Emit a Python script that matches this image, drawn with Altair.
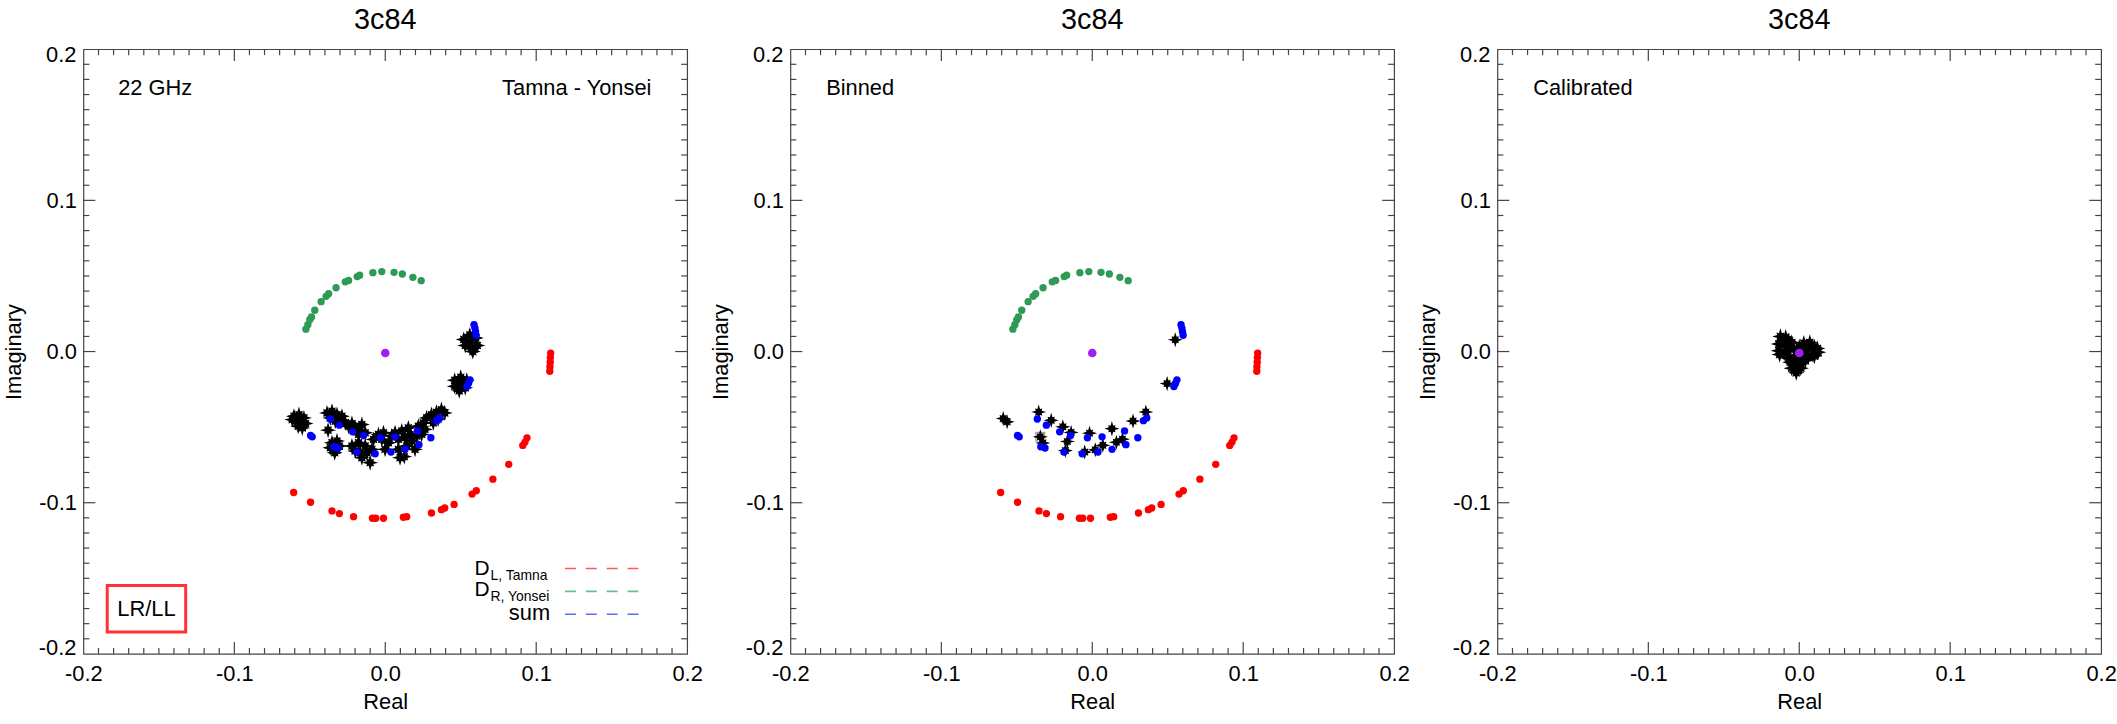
import altair as alt
import pandas as pd

# ---------------- data (Real, Imaginary) ----------------
green_re = [-0.0526, -0.0513, -0.0500, -0.0489, -0.0467, -0.0425, -0.0392, -0.0375, -0.0326,
            -0.0265, -0.0243, -0.0186, -0.0170, -0.0082, -0.0023, 0.0058, 0.0113, 0.0183, 0.0238]
green_im = [0.0148, 0.0178, 0.0211, 0.0229, 0.0273, 0.0330, 0.0365, 0.0382, 0.0422,
            0.0461, 0.0470, 0.0496, 0.0505, 0.0522, 0.0529, 0.0524, 0.0513, 0.0491, 0.0469]

red_re = [-0.0607, -0.0495, -0.0353, -0.0304, -0.0210, -0.0085, -0.0063, -0.0012, 0.0120, 0.0142,
          0.0306, 0.0372, 0.0394, 0.0456, 0.0575, 0.0603, 0.0713, 0.0818, 0.0911, 0.0926, 0.0939,
          0.1096, 0.1094, 0.1093, 0.1091, 0.1090]
red_im = [-0.0932, -0.0997, -0.1054, -0.1072, -0.1092, -0.1103, -0.1103, -0.1103, -0.1096, -0.1092,
          -0.1068, -0.1046, -0.1035, -0.1011, -0.0943, -0.0921, -0.0844, -0.0746, -0.0621, -0.0599, -0.0571,
          -0.0010, -0.0040, -0.0070, -0.0100, -0.0130]

blue_re = [0.0588, 0.0594, 0.0598, 0.0602, 0.0561, 0.0552, 0.0541, -0.0495, -0.0484,
           -0.0364, -0.0304, -0.0216, -0.0144, -0.0032, 0.0065, -0.0341, -0.0313, -0.0188,
           -0.0067, 0.0038, 0.0131, 0.0223, 0.0214, 0.0302, 0.0339, 0.0361]
blue_im = [0.0178, 0.0155, 0.0132, 0.0108, -0.0187, -0.0209, -0.0231, -0.0555, -0.0564,
           -0.0446, -0.0487, -0.0531, -0.0555, -0.0570, -0.0564, -0.0630, -0.0638, -0.0665,
           -0.0676, -0.0665, -0.0647, -0.0616, -0.0525, -0.0570, -0.0457, -0.0439]

purple_re = [0.0]
purple_im = [-0.001]

# panel 1 (raw) black stars, by cluster
p1_a_re = [-0.0605, -0.0572, -0.0539, -0.0594, -0.0555, -0.0616, -0.0528, -0.0577, -0.0550]
p1_a_im = [-0.0428, -0.0417, -0.0439, -0.0461, -0.0472, -0.0450, -0.0476, -0.0494, -0.0505]
p1_c_re = [0.052, 0.056, 0.060, 0.061, 0.057, 0.053, 0.056, 0.058]
p1_c_im = [0.008, 0.011, 0.009, 0.004, 0.002, 0.004, 0.006, 0.000]
p1_d_re = [0.046, 0.050, 0.054, 0.053, 0.049, 0.046, 0.050]
p1_d_im = [-0.019, -0.017, -0.019, -0.024, -0.026, -0.023, -0.021]
p1_b1_re = [-0.0386, -0.0353, -0.0320, -0.0364, -0.0298, -0.0331, -0.0265, -0.0287, -0.0243,
            -0.0221, -0.0199, -0.0177, -0.0155, -0.0133, -0.0177]
p1_b1_im = [-0.0406, -0.0395, -0.0417, -0.0439, -0.0450, -0.0461, -0.0472, -0.0428, -0.0494,
            -0.0476, -0.0505, -0.0515, -0.0483, -0.0537, -0.0548]
p1_b2_re = [-0.0353, -0.0320, -0.0331, -0.0364, -0.0304, -0.0335]
p1_b2_im = [-0.0603, -0.0592, -0.0647, -0.0636, -0.0625, -0.0669]
p1_b3_re = [-0.0221, -0.0199, -0.0166, -0.0177, -0.0133, -0.0122, -0.0089, -0.0078, -0.0045,
            -0.0012, -0.0023, -0.0001, 0.0021, 0.0043, 0.0065, 0.0087, 0.0087, 0.0109, 0.0131,
            0.0142, 0.0164, 0.0175, 0.0197, 0.0208, 0.0153]
p1_b3_im = [-0.0625, -0.0658, -0.0669, -0.0603, -0.0625, -0.0669, -0.0647, -0.0581, -0.0548,
            -0.0537, -0.0581, -0.0647, -0.0603, -0.0559, -0.0537, -0.0581, -0.0647, -0.0526, -0.0570,
            -0.0625, -0.0548, -0.0592, -0.0647, -0.0559, -0.0505]
p1_b4_re = [0.0219, 0.0252, 0.0274, 0.0306, 0.0339, 0.0372, 0.0394, 0.0350, 0.0318, 0.0263, 0.0241]
p1_b4_im = [-0.0494, -0.0472, -0.0439, -0.0417, -0.0402, -0.0384, -0.0406, -0.0446, -0.0472, -0.0515, -0.0548]
p1_iso_re = [-0.0379, -0.0100, 0.0126, -0.0155, 0.0098]
p1_iso_im = [-0.0520, -0.0735, -0.0695, -0.0702, -0.0702]

# panel 2 (binned) black stars
p2_re = [-0.0590, -0.0564, -0.0355, -0.0272, -0.0195, -0.0140, -0.0344, -0.0327, -0.0165, -0.0178,
         -0.0050, -0.0018, 0.0020, 0.0070, 0.0130, 0.0160, 0.0200, 0.0270, 0.0355, 0.0496, 0.0550]
p2_im = [-0.0443, -0.0465, -0.0400, -0.0455, -0.0498, -0.0535, -0.0564, -0.0605, -0.0595, -0.0655,
         -0.0665, -0.0540, -0.0650, -0.0620, -0.0510, -0.0600, -0.0580, -0.0460, -0.0400, -0.0212, 0.0078]
p2_box_re = [-0.0344]
p2_box_im = [-0.0564]

# panel 3 (calibrated) black stars
p3_re = [-0.0125, -0.0090, -0.0135, -0.0095, -0.0135, -0.0100, -0.0060, -0.0050, 0.0030, 0.0070,
         0.0100, 0.0125, 0.0090, 0.0040, 0.0000, 0.0020, -0.0030, -0.0070, -0.0040, 0.0010,
         -0.0020, -0.0020, 0.0060, -0.0060, -0.0110, -0.0070, 0.0060, 0.0120, -0.0130, 0.0100,
         -0.0010, 0.0040, -0.0050, 0.0010, -0.0080, -0.0020]
p3_im = [0.0100, 0.0095, 0.0050, 0.0050, 0.0005, -0.0010, 0.0020, 0.0060, 0.0055, 0.0060,
         0.0030, -0.0005, -0.0020, 0.0010, 0.0030, -0.0040, -0.0040, -0.0045, -0.0080, -0.0080,
         -0.0110, -0.0140, -0.0035, -0.0070, 0.0070, 0.0070, 0.0030, 0.0020, -0.0020, -0.0030,
         -0.0060, -0.0060, -0.0110, -0.0110, 0.0010, 0.0000]

tick_labels = [-0.2, -0.1, 0.0, 0.1, 0.2]
inner_y_labels = [-0.1, 0.0, 0.1]
major_ticks = [-0.1, 0.0, 0.1]
minor_ticks = [round(i * 0.01, 2) for i in range(-19, 20) if i % 10 != 0]

# ---------------- styling ----------------
W, H = 608, 609
FONT = "Liberation Sans"
FRAME = "#444444"
STAR = ("M0,-1L0.18,-0.4L0.48,-0.48L0.4,-0.18L1,0L0.4,0.18L0.48,0.48"
        "L0.18,0.4L0,1L-0.18,0.4L-0.48,0.48L-0.4,0.18L-1,0L-0.4,-0.18"
        "L-0.48,-0.48L-0.18,-0.4Z")
SCALE = alt.Scale(domain=[-0.2, 0.2], nice=False, zero=False)
LABEL_EXPR = "replace(format(datum.value, '.1f'), '\u2212', '-')"

X = alt.X("re:Q", scale=SCALE, title="Real",
          axis=alt.Axis(values=tick_labels, labelExpr=LABEL_EXPR, ticks=False, tickSize=0,
                        domain=False, grid=False, labelFont=FONT, labelFontSize=22,
                        labelColor="black", labelPadding=10, labelFlush=False, labelOverlap=False,
                        titleFont=FONT, titleFontSize=22, titleFontWeight="normal",
                        titleColor="black", titlePadding=7))
Y = alt.Y("im:Q", scale=SCALE, title="Imaginary",
          axis=alt.Axis(values=inner_y_labels, labelExpr=LABEL_EXPR, ticks=False, tickSize=0,
                        domain=False, grid=False, labelFont=FONT, labelFontSize=22,
                        labelColor="black", labelPadding=7, labelFlush=False, labelOverlap=False,
                        titleFont=FONT, titleFontSize=22, titleFontWeight="normal",
                        titleColor="black", titlePadding=13))


def df(re, im):
    return pd.DataFrame({"re": re, "im": im})


def tick_layers():
    out = []
    for vals, ln in ((major_ticks, 12), (minor_ticks, 6)):
        dx = pd.DataFrame({"re": vals})
        dy = pd.DataFrame({"im": vals})
        rule = dict(color=FRAME, strokeWidth=1.2)
        out.append(alt.Chart(dx).mark_rule(**rule).encode(x=X, y=alt.value(H), y2=alt.value(H - ln)))
        out.append(alt.Chart(dx).mark_rule(**rule).encode(x=X, y=alt.value(0), y2=alt.value(ln)))
        out.append(alt.Chart(dy).mark_rule(**rule).encode(y=Y, x=alt.value(0), x2=alt.value(ln)))
        out.append(alt.Chart(dy).mark_rule(**rule).encode(y=Y, x=alt.value(W), x2=alt.value(W - ln)))
    return out


def dots(re, im, color, size=55):
    return alt.Chart(df(re, im)).mark_point(shape="circle", filled=True, size=size, color=color,
                                            opacity=1, strokeWidth=0).encode(x=X, y=Y)


def stars(re, im, size=260):
    return alt.Chart(df(re, im)).mark_point(shape=STAR, filled=True, size=size, color="black",
                                            opacity=1, strokeWidth=0).encode(x=X, y=Y)


def text(t, x, y, size=22, align="left", baseline="alphabetic"):
    return alt.Chart(pd.DataFrame({"t": [t]})).mark_text(
        font=FONT, fontSize=size, color="black", align=align, baseline=baseline
    ).encode(x=alt.value(x), y=alt.value(y), text="t:N")


def dash(color, y):
    return alt.Chart(pd.DataFrame({"t": [0]})).mark_rule(
        color=color, strokeWidth=1.6, strokeDash=[11, 10]
    ).encode(x=alt.value(485), x2=alt.value(562), y=alt.value(y))


def panel(layers):
    end_labels = [
        text("0.2", -7, 6, align="right", baseline="middle"),
        text("-0.2", -7, H - 6, align="right", baseline="middle"),
    ]
    return alt.layer(*tick_layers(), *end_labels, *layers).properties(
        width=W, height=H,
        title=alt.TitleParams("3c84", font=FONT, fontSize=29, fontWeight="normal",
                              color="black", offset=9))


p1_re = p1_a_re + p1_c_re + p1_d_re + p1_b1_re + p1_b2_re + p1_b3_re + p1_b4_re + p1_iso_re
p1_im = p1_a_im + p1_c_im + p1_d_im + p1_b1_im + p1_b2_im + p1_b3_im + p1_b4_im + p1_iso_im

box = alt.Chart(pd.DataFrame({"t": [0]})).mark_rect(
    fillOpacity=0, stroke="#ff3333", strokeWidth=3
).encode(x=alt.value(24), x2=alt.value(103), y=alt.value(540), y2=alt.value(587))

panel1 = panel([
    dots(green_re, green_im, "#2e9a55"),
    dots(red_re, red_im, "#ff0000"),
    stars(p1_re, p1_im),
    dots(blue_re, blue_im, "#0000ff"),
    dots(purple_re, purple_im, "#a020f0", 75),
    text("22 GHz", 35, 46),
    text("Tamna - Yonsei", 572, 46, align="right"),
    box,
    text("LR/LL", 63.5, 564, align="center", baseline="middle"),
    text("D", 409, 530, size=21, align="right"),
    text("L, Tamna", 410, 535, size=14, align="left"),
    dash("#ff5a5a", 523),
    text("D", 409, 551, size=21, align="right"),
    text("R, Yonsei", 410, 556, size=14, align="left"),
    dash("#6dbf8a", 546),
    text("sum", 470, 575, size=22, align="right"),
    dash("#5a6bff", 569),
])

sq = alt.Chart(df(p2_box_re, p2_box_im)).mark_point(
    shape="square", filled=False, size=80, color="#777777", strokeWidth=1.2
).encode(x=X, y=Y)

panel2 = panel([
    dots(green_re, green_im, "#2e9a55"),
    dots(red_re, red_im, "#ff0000"),
    sq,
    stars(p2_re, p2_im, 230),
    dots(blue_re, blue_im, "#0000ff"),
    dots(purple_re, purple_im, "#a020f0", 75),
    text("Binned", 36, 46),
])

panel3 = panel([
    stars(p3_re, p3_im, 270),
    dots(purple_re, purple_im, "#a020f0", 75),
    text("Calibrated", 36, 46),
])

chart = alt.hconcat(panel1, panel2, panel3, spacing=6).properties(
    padding={"left": 2, "top": 3, "right": 0, "bottom": 0},
    background="white",
).configure_view(stroke=FRAME, strokeWidth=1.2)

chart.save("out.html", embed_options={"renderer": "svg", "actions": False})
